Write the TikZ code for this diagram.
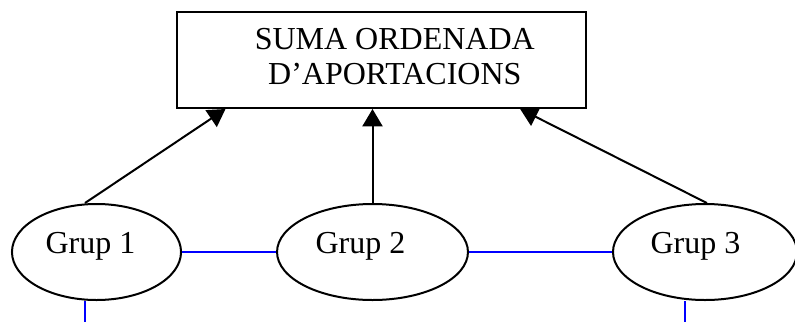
\documentclass[tikz,border=0pt]{standalone}
\usepackage{fontspec}
\setmainfont{Liberation Serif}
\usetikzlibrary{shapes.geometric,arrows.meta}
\newcommand{\textgrup}[2]{\hspace*{#1}\raisebox{2.25pt}{#2}}
\tikzset{
  grup/.style={draw, ellipse, line width=0.75pt, inner sep=0pt, minimum height=36pt, text height=8pt, text depth=2.6pt, font=\fontsize{12}{13.8}\selectfont},
  caixa/.style={draw, rectangle, line width=0.75pt, minimum width=153.4pt, minimum height=36pt, font=\fontsize{12}{13.1}\selectfont},
  fletxa/.style={line width=0.75pt, -{Triangle[length=6.5pt,width=7.5pt]}},
  enllac/.style={line width=0.75pt, blue}
}
\begin{document}
\begin{tikzpicture}[x=0.375pt,y=-0.375pt]
\useasboundingbox (0,0) rectangle (795,322);
\node[caixa] (suma) at (381.5,60) {\hspace*{10pt}\begin{tabular}{@{}c@{}}SUMA ORDENADA\\D'APORTACIONS\end{tabular}};
\node[grup, minimum width=63.4pt] (g1) at (96.5,252) {\textgrup{-4.5pt}{Grup 1}};
\node[grup, minimum width=71.6pt] (g2) at (372.5,252) {\textgrup{-9pt}{Grup 2}};
\node[grup, minimum width=69pt] (g3) at (705,252) {\textgrup{-7.2pt}{Grup 3}};
\coordinate (g1baix) at (85,322);
\coordinate (g3baix) at (685,322);
% fletxes cap a la suma
\path[draw,fletxa] ([xshift=-4.3pt]g1.north) -- ([xshift=-58.5pt]suma.south);
\path[draw,fletxa] (g2.north) -- (suma.south -| g2.north);
\path[draw,fletxa] ([xshift=0.7pt]g3.north) -- ([xshift=52pt]suma.south);
% enllacos entre grups
\path[draw,enllac] (g1) -- (g2);
\path[draw,enllac] (g2) -- (g3);
\path[draw,enllac] (g1.south -| g1baix) -- (g1baix);
\path[draw,enllac] (g3.south -| g3baix) -- (g3baix);
\end{tikzpicture}
\end{document}
